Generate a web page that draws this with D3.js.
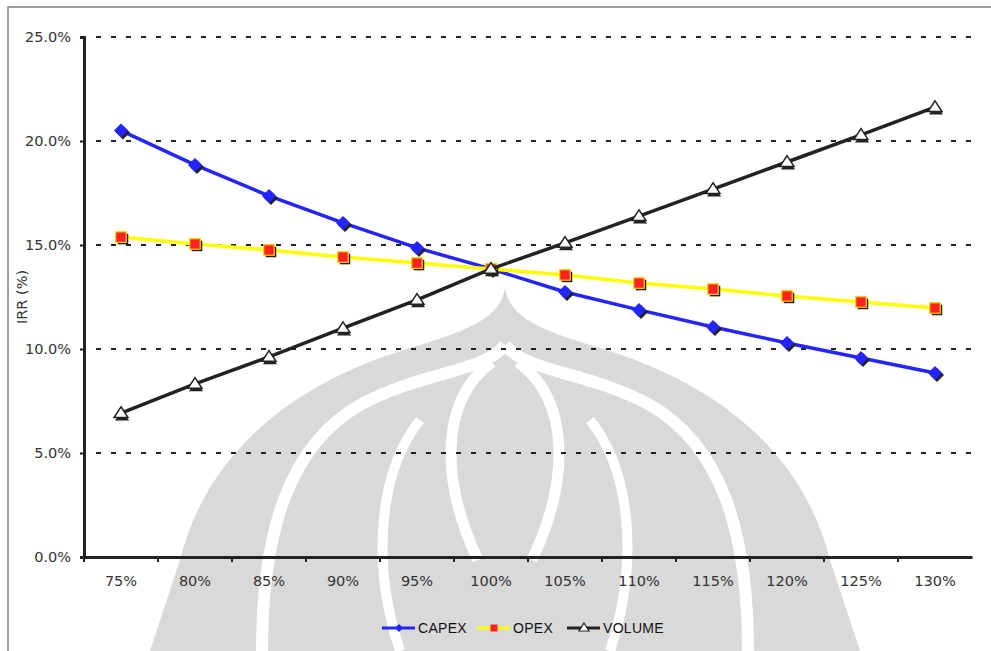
<!DOCTYPE html>
<html>
<head>
<meta charset="utf-8">
<script src="https://cdn.jsdelivr.net/npm/d3@7"></script>
<style>
  body { margin: 0; background: #fff; }
  svg { display: block; }
</style>
</head>
<body>
<svg id="chart" width="991" height="651"></svg>
<script>
// chart data
const categories = ["75%", "80%", "85%", "90%", "95%", "100%", "105%", "110%", "115%", "120%", "125%", "130%"];
const capex  = [20.5, 18.85, 17.36, 16.06, 14.86, 13.85, 12.74, 11.88, 11.06, 10.29, 9.57, 8.85];
const opex   = [15.38, 15.05, 14.76, 14.42, 14.13, 13.85, 13.56, 13.17, 12.88, 12.55, 12.26, 11.97];
const volume = [6.92, 8.32, 9.62, 11.0, 12.36, 13.85, 15.1, 16.39, 17.69, 18.99, 20.29, 21.63];
const yTicks = [0, 5, 10, 15, 20, 25];
const seriesNames = ["CAPEX", "OPEX", "VOLUME"];

const svg = d3.select("#chart");
const margin = {top: 37, left: 84, right: 19, bottom: 94};
const width = 991 - margin.left - margin.right,
      height = 651 - margin.top - margin.bottom;

// background watermark (rough shape of the logo)
const wm = svg.append("g");
wm.append("path")
  .attr("d", "M505,288 C510,318 540,330 600,348 C700,378 800,440 830,560 L860,651 L150,651 L180,560 C210,440 310,378 410,348 C470,330 500,318 505,288 Z")
  .attr("fill", "#d9d9d9");
wm.append("path")
  .attr("d", "M505,345 C485,372 420,372 360,405 C290,445 262,530 262,651 M505,345 C525,372 590,372 650,405 C720,445 748,530 748,651")
  .attr("fill", "none").attr("stroke", "#fff").attr("stroke-width", 12);
wm.append("path")
  .attr("d", "M492,362 C440,400 440,480 478,560 M518,362 C570,400 570,480 532,560")
  .attr("fill", "none").attr("stroke", "#fff").attr("stroke-width", 11);
wm.append("path")
  .attr("d", "M420,420 C380,470 370,560 400,651 M590,420 C630,470 640,560 610,651")
  .attr("fill", "none").attr("stroke", "#fff").attr("stroke-width", 10);

// frame
svg.append("path")
  .attr("d", "M8,651 L8,7 L991,7")
  .attr("fill", "none").attr("stroke", "#808080").attr("stroke-width", 1.5);

const g = svg.append("g").attr("transform", `translate(${margin.left},${margin.top})`);

const x = d3.scaleBand().domain(categories).range([0, width]);
const y = d3.scaleLinear().domain([0, 25]).range([height, 0]);

// gridlines
g.append("g").selectAll("line")
  .data(yTicks.filter(d => d > 0))
  .join("line")
  .attr("x1", 0).attr("x2", width)
  .attr("y1", d => y(d)).attr("y2", d => y(d))
  .attr("stroke", "#222").attr("stroke-width", 2)
  .attr("stroke-dasharray", "5,10")
  .attr("stroke-dashoffset", -12);

// axes
const yAxis = g.append("g")
  .call(d3.axisLeft(y).tickValues(yTicks).tickFormat(d => d.toFixed(1) + "%").tickSize(4).tickPadding(9));
const xAxis = g.append("g")
  .attr("transform", `translate(0,${height})`)
  .call(d3.axisBottom(x).tickSize(0).tickPadding(19));
// x tick marks between categories
xAxis.selectAll("line.sep")
  .data(categories)
  .join("line").attr("class", "sep")
  .attr("x1", d => x(d)).attr("x2", d => x(d))
  .attr("y1", 0).attr("y2", 5)
  .attr("stroke", "#222").attr("stroke-width", 2);

[yAxis, xAxis].forEach(a => {
  a.select(".domain").attr("stroke", "#222").attr("stroke-width", 3);
  a.selectAll(".tick line").attr("stroke", "#222").attr("stroke-width", 2);
  a.selectAll("text").attr("font-family", "DejaVu Sans, sans-serif").attr("font-size", 14.5).attr("fill", "#333");
});

svg.append("text")
  .attr("transform", "translate(27,297) rotate(-90)")
  .attr("text-anchor", "middle")
  .attr("font-family", "DejaVu Sans, sans-serif").attr("font-size", 14.5).attr("fill", "#333")
  .text("IRR (%)");

const cx = d => x(d) + x.bandwidth() / 2;
const line = d3.line().x((d, i) => cx(categories[i])).y(d => y(d));

const colors = {CAPEX: "#2424ff", OPEX: "#ffff00", VOLUME: "#222"};
const values = {CAPEX: capex, OPEX: opex, VOLUME: volume};

function drawMarker(sel, name, s) {
  if (name === "CAPEX") {
    sel.append("path").attr("d", `M0,${-s}L${s},0L0,${s}L${-s},0Z`)
      .attr("transform", "translate(2,2)").attr("fill", "#222");
    sel.append("path").attr("d", `M0,${-s}L${s},0L0,${s}L${-s},0Z`).attr("fill", "#2424ff");
  } else if (name === "OPEX") {
    const h = s * 0.75;
    sel.append("rect").attr("x", -h + 2).attr("y", -h + 2).attr("width", 2 * h).attr("height", 2 * h).attr("fill", "#222");
    sel.append("rect").attr("x", -h).attr("y", -h).attr("width", 2 * h).attr("height", 2 * h)
      .attr("fill", "#ff2020").attr("stroke", "#f0d000").attr("stroke-width", 1.2);
  } else {
    const w = s, t = s * 0.9;
    sel.append("path").attr("d", `M0,${-t + 2}L${w},${t * 0.7 + 2}L${-w},${t * 0.7 + 2}Z`)
      .attr("transform", "translate(1,1)").attr("fill", "#222");
    sel.append("path").attr("d", `M0,${-t}L${w},${t * 0.7}L${-w},${t * 0.7}Z`)
      .attr("fill", "#fff").attr("stroke", "#222").attr("stroke-width", 1.5);
  }
}

seriesNames.forEach(name => {
  const vals = values[name];
  g.append("path").datum(vals)
    .attr("d", line)
    .attr("fill", "none")
    .attr("stroke", colors[name]).attr("stroke-width", 3.5);
  g.append("g").selectAll("g")
    .data(vals)
    .join("g")
    .attr("transform", (d, i) => `translate(${cx(categories[i])},${y(d)})`)
    .each(function () { drawMarker(d3.select(this), name, 7); });
});

// legend
const legendX = [382, 477, 567];
const legend = svg.append("g");
seriesNames.forEach((name, i) => {
  const lg = legend.append("g").attr("transform", `translate(${legendX[i]},628)`);
  lg.append("line").attr("x1", 0).attr("x2", 33).attr("y1", 0).attr("y2", 0)
    .attr("stroke", colors[name]).attr("stroke-width", 3);
  const m = lg.append("g").attr("transform", "translate(17,0)");
  if (name === "CAPEX") {
    m.append("path").attr("d", "M0,-4L4,0L0,4L-4,0Z").attr("fill", "#2424ff");
  } else if (name === "OPEX") {
    m.append("rect").attr("x", -3.5).attr("y", -3.5).attr("width", 7).attr("height", 7).attr("fill", "#ff2020");
  } else {
    m.append("path").attr("d", "M0,-5L5,3L-5,3Z").attr("fill", "#fff").attr("stroke", "#222").attr("stroke-width", 1.2);
  }
  lg.append("text").attr("x", 36).attr("y", 5)
    .attr("font-family", "Liberation Sans, Arial, sans-serif").attr("font-size", 14)
    .attr("letter-spacing", 0.3).attr("fill", "#111")
    .text(name);
});
</script>
</body>
</html>
